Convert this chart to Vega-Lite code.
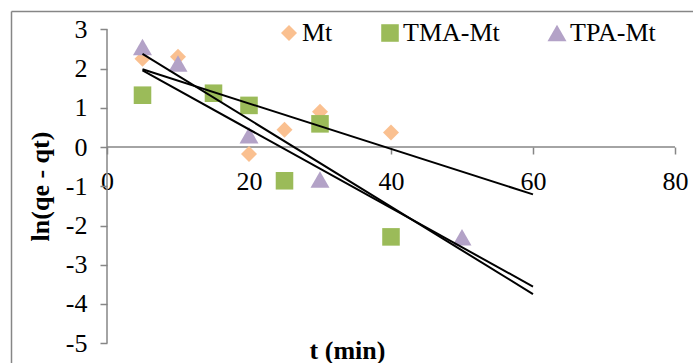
{
  "$schema": "https://vega.github.io/schema/vega-lite/v6.json",
  "width": 682,
  "height": 352,
  "autosize": {"type": "none"},
  "padding": {"left": 11, "top": 11, "right": 0, "bottom": 0},
  "background": "white",
  "config": {
    "view": {"stroke": null},
    "font": "Liberation Serif",
    "axis": {"labelFont": "Liberation Serif", "titleFont": "Liberation Serif", "grid": false},
    "legend": {"labelFont": "Liberation Serif", "padding": 0}
  },
  "datasets": {
    "pts": [
      {"series": "Mt", "t": 5, "lnq": 2.25},
      {"series": "Mt", "t": 10, "lnq": 2.3},
      {"series": "Mt", "t": 20, "lnq": -0.18},
      {"series": "Mt", "t": 25, "lnq": 0.44},
      {"series": "Mt", "t": 30, "lnq": 0.9},
      {"series": "Mt", "t": 40, "lnq": 0.37},
      {"series": "TMA-Mt", "t": 5, "lnq": 1.32},
      {"series": "TMA-Mt", "t": 15, "lnq": 1.37},
      {"series": "TMA-Mt", "t": 20, "lnq": 1.06},
      {"series": "TMA-Mt", "t": 25, "lnq": -0.86},
      {"series": "TMA-Mt", "t": 30, "lnq": 0.59},
      {"series": "TMA-Mt", "t": 40, "lnq": -2.29},
      {"series": "TPA-Mt", "t": 5, "lnq": 2.55},
      {"series": "TPA-Mt", "t": 10, "lnq": 2.13},
      {"series": "TPA-Mt", "t": 20, "lnq": 0.3},
      {"series": "TPA-Mt", "t": 30, "lnq": -0.83},
      {"series": "TPA-Mt", "t": 50, "lnq": -2.3}
    ],
    "axislines": [
      {"x": 0, "x2": 0, "y": -5, "y2": 3},
      {"x": 0, "x2": 80, "y": 0, "y2": 0}
    ]
  },
  "resolve": {"axis": {"x": "independent", "y": "independent"}},
  "layer": [
    {
      "data": {"name": "axislines"},
      "mark": {"type": "rule", "color": "#868686", "strokeWidth": 1.5},
      "encoding": {
        "x": {"field": "x", "type": "quantitative",
              "scale": {"domain": [-13.5211, 82.5352], "nice": false, "zero": false},
              "axis": {"orient": "top", "domain": true, "domainColor": "#868686", "domainWidth": 1.5, "ticks": false, "labels": false, "title": null}},
        "x2": {"field": "x2"},
        "y": {"field": "y", "type": "quantitative",
              "scale": {"domain": [-5.5032, 3.465], "nice": false, "zero": false},
              "axis": {"orient": "left", "domain": true, "domainColor": "#868686", "domainWidth": 1.5, "ticks": false, "labels": false, "title": null}},
        "y2": {"field": "y2"}
      }
    },
    {
      "data": {"name": "pts"},
      "mark": {"type": "point", "filled": true, "opacity": 1},
      "encoding": {
        "x": {"field": "t", "type": "quantitative",
              "scale": {"domain": [-13.5211, 82.5352], "nice": false, "zero": false},
              "axis": {"orient": "bottom", "offset": -216, "domain": false, "values": [0, 20, 40, 60, 80],
                       "tickSize": 7, "tickColor": "#868686", "tickWidth": 1.5,
                       "labelFont": "Liberation Serif", "labelFontSize": 26, "labelPadding": 14, "labelColor": "black", "labelFlush": false, "labelOverlap": false,
                       "labelExpr": "'' + datum.value",
                       "title": "t (min)", "titleFont": "Liberation Serif", "titleFontSize": 26, "titleFontWeight": "bold", "titleColor": "black",
                       "titleX": 336, "titleY": 211, "titleBaseline": "alphabetic", "titleAlign": "center"}},
        "y": {"field": "lnq", "type": "quantitative",
              "scale": {"domain": [-5.5032, 3.465], "nice": false, "zero": false},
              "axis": {"orient": "left", "offset": -96, "domain": false, "values": [-5, -4, -3, -2, -1, 0, 1, 2, 3],
                       "tickSize": 7, "tickColor": "#868686", "tickWidth": 1.5,
                       "labelFont": "Liberation Serif", "labelFontSize": 26, "labelPadding": 13, "labelColor": "black", "labelFlush": false, "labelOverlap": false,
                       "labelExpr": "'' + datum.value",
                       "title": "ln(qe - qt)", "titleFont": "Liberation Serif", "titleFontSize": 26, "titleFontWeight": "bold", "titleColor": "black",
                       "titleX": -59, "titleY": 175, "titleBaseline": "alphabetic", "titleAlign": "center", "titleAngle": -90}},
        "color": {"field": "series", "type": "nominal",
                  "scale": {"domain": ["Mt", "TMA-Mt", "TPA-Mt"], "range": ["#FAC090", "#9BBB59", "#B3A2C7"]},
                  "legend": {"orient": "none", "legendX": 265, "legendY": 9, "direction": "horizontal", "title": null,
                             "labelFont": "Liberation Serif", "labelFontSize": 26, "labelColor": "black", "symbolSize": 280, "labelOffset": 0,
                             "columnPadding": 44, "symbolOpacity": 1, "symbolStrokeWidth": 0}},
        "shape": {"field": "series", "type": "nominal",
                  "scale": {"domain": ["Mt", "TMA-Mt", "TPA-Mt"], "range": ["diamond", "square", "triangle-up"]},
                  "legend": {"orient": "none", "legendX": 265, "legendY": 9, "direction": "horizontal", "title": null,
                             "labelFont": "Liberation Serif", "labelFontSize": 26, "labelColor": "black", "symbolSize": 280, "labelOffset": 0,
                             "columnPadding": 44, "symbolOpacity": 1, "symbolStrokeWidth": 0}},
        "size": {"field": "series", "type": "nominal",
                 "scale": {"domain": ["Mt", "TMA-Mt", "TPA-Mt"], "range": [256, 361, 361]},
                 "legend": null}
      }
    },
    {
      "data": {"name": "pts"},
      "transform": [{"regression": "lnq", "on": "t", "groupby": ["series"], "method": "linear", "extent": [5, 60]}],
      "mark": {"type": "line", "color": "black", "strokeWidth": 2},
      "encoding": {
        "x": {"field": "t", "type": "quantitative",
              "scale": {"domain": [-13.5211, 82.5352], "nice": false, "zero": false}, "axis": null},
        "y": {"field": "lnq", "type": "quantitative",
              "scale": {"domain": [-5.5032, 3.465], "nice": false, "zero": false}, "axis": null},
        "detail": {"field": "series", "type": "nominal"}
      }
    }
  ]
}
